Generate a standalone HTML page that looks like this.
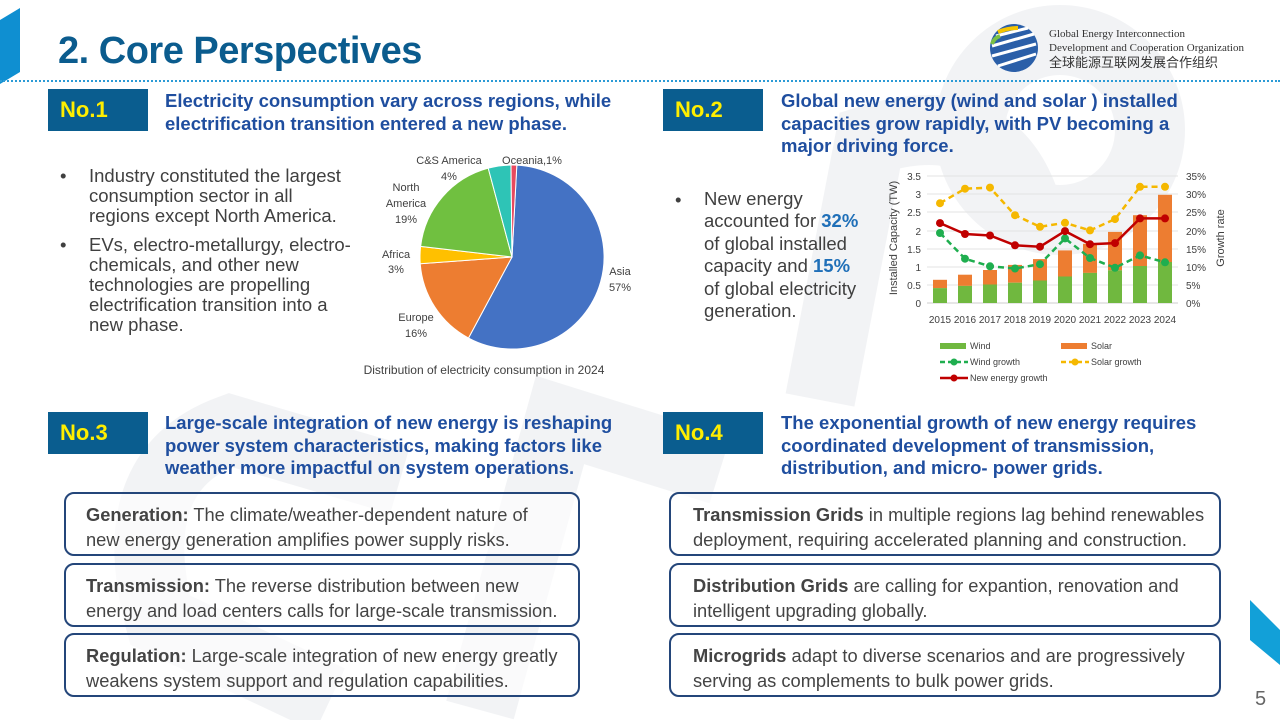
<!DOCTYPE html>
<html><head><meta charset="utf-8"><style>
*{margin:0;padding:0;box-sizing:border-box}
body{width:1280px;height:720px;position:relative;overflow:hidden;background:#fff;font-family:"Liberation Sans",Arial,sans-serif}
.abs{position:absolute}
.title{left:58px;top:30px;font-size:38px;font-weight:bold;color:#0b5c8e;letter-spacing:-0.5px}
.dots{left:0;top:80px;width:1280px;border-top:2px dotted #2b9bd6}
.no{width:100px;height:42px;background:#0a5d8f;color:#ffee00;font-weight:bold;font-size:22px;line-height:42px;padding-left:12px}
.hd{font-size:18.5px;font-weight:bold;color:#1f4e9f;line-height:22.5px;white-space:nowrap}
.bul{font-size:18.5px;color:#404040;line-height:20px;white-space:nowrap}
.box{border:2.5px solid #24467a;border-radius:10px;width:516px;height:64px;padding:8px 0 0 20px;font-size:18.3px;color:#444;line-height:25px;background:rgba(255,255,255,.6);white-space:nowrap}
.box b{color:#444}
.hl{color:#1f6fb8;font-weight:bold}
</style></head><body>
<svg class="abs" style="left:0;top:0" width="1280" height="720">
 <path d="M0 20 L20 8 L20 72 L0 84Z" fill="#0f8fd1"/>
 <path d="M1250 600 L1280 630 L1280 665 L1250 640Z" fill="#12a0d8"/>
 <g fill="none" stroke="#e6e8ec" stroke-width="70" opacity=".5">
  <path d="M330 700 L160 620 Q120 470 230 430 L400 480"/>
  <path d="M480 710 L560 420 L720 470"/>
  <path d="M820 400 L870 140 Q1000 100 1030 220"/>
  <circle cx="1060" cy="130" r="90"/>
 </g>
</svg>
<div class="abs title">2. Core Perspectives</div>
<div class="abs dots"></div>
<svg class="abs" style="left:988px;top:22px" width="52" height="52"><circle cx="26" cy="26" r="24" fill="#2b5fa8"/><path d="M8 14 L40 6 M4 24 L46 12 M4 34 L48 22 M10 44 L48 32" stroke="#fff" stroke-width="3"/><path d="M10 10 Q20 6 30 6" stroke="#f5c400" stroke-width="4" fill="none"/><path d="M4 22 Q6 16 12 14" stroke="#7ac143" stroke-width="4" fill="none"/></svg>
<div class="abs" style="left:1049px;top:27px;font-family:'Liberation Serif',serif;font-size:11px;color:#333;line-height:14px">Global Energy Interconnection<br>Development and Cooperation Organization<br><span style="font-family:'Noto Sans CJK SC',sans-serif;font-size:13px">全球能源互联网发展合作组织</span></div>

<div class="abs no" style="left:48px;top:89px">No.1</div>
<div class="abs hd" style="left:165px;top:90px">Electricity consumption vary across regions, while<br>electrification transition entered a new phase.</div>
<div class="abs no" style="left:663px;top:89px">No.2</div>
<div class="abs hd" style="left:781px;top:90px">Global new energy (wind and solar ) installed<br>capacities grow rapidly, with PV becoming a<br>major driving force.</div>
<div class="abs no" style="left:48px;top:412px">No.3</div>
<div class="abs hd" style="left:165px;top:412px">Large-scale integration of new energy is reshaping<br>power system characteristics, making factors like<br>weather more impactful on system operations.</div>
<div class="abs no" style="left:663px;top:412px">No.4</div>
<div class="abs hd" style="left:781px;top:412px">The exponential growth of new energy requires<br>coordinated development of transmission,<br>distribution, and micro- power grids.</div>

<div class="abs bul" style="left:60px;top:166px">•</div>
<div class="abs bul" style="left:89px;top:166px">Industry constituted the largest<br>consumption sector in all<br>regions except North America.</div>
<div class="abs bul" style="left:60px;top:235px">•</div>
<div class="abs bul" style="left:89px;top:235px">EVs, electro-metallurgy, electro-<br>chemicals, and other new<br>technologies are propelling<br>electrification transition into a<br>new phase.</div>

<svg class="abs" style="left:0;top:0" width="1280" height="720" font-family="Liberation Sans, sans-serif">
 <g transform="translate(512,257) rotate(3)">
  <path d="M0 0 L0 -92 A92 92 0 1 1 -39.2 83.2Z" fill="#4472c4" stroke="#fff" stroke-width="1"/>
  <path d="M0 0 L-39.2 83.2 A92 92 0 0 1 -91.3 11.5Z" fill="#ed7d31" stroke="#fff" stroke-width="1"/>
  <path d="M0 0 L-91.3 11.5 A92 92 0 0 1 -91.8 -5.8Z" fill="#ffc000" stroke="#fff" stroke-width="1"/>
  <path d="M0 0 L-91.8 -5.8 A92 92 0 0 1 -28.4 -87.5Z" fill="#70c040" stroke="#fff" stroke-width="1"/>
  <path d="M0 0 L-28.4 -87.5 A92 92 0 0 1 -5.8 -91.8Z" fill="#2ec4b6" stroke="#fff" stroke-width="1"/>
  <path d="M0 0 L-5.8 -91.8 A92 92 0 0 1 0 -92Z" fill="#e84a5f" stroke="#fff" stroke-width="1"/>
 </g>
 <g font-size="11" fill="#404040" text-anchor="middle">
  <text x="449" y="164">C&amp;S America</text><text x="449" y="180">4%</text>
  <text x="532" y="164">Oceania,1%</text>
  <text x="406" y="191">North</text><text x="406" y="207">America</text><text x="406" y="223">19%</text>
  <text x="396" y="258">Africa</text><text x="396" y="273">3%</text>
  <text x="620" y="275">Asia</text><text x="620" y="291">57%</text>
  <text x="416" y="321">Europe</text><text x="416" y="337">16%</text>
  <text x="484" y="374" font-size="12">Distribution of electricity consumption in 2024</text>
 </g>

 <g stroke="#e3e3e3" stroke-width="1">
  <line x1="927" x2="1178" y1="176" y2="176"/><line x1="927" x2="1178" y1="194" y2="194"/><line x1="927" x2="1178" y1="212" y2="212"/><line x1="927" x2="1178" y1="231" y2="231"/><line x1="927" x2="1178" y1="249" y2="249"/><line x1="927" x2="1178" y1="267" y2="267"/><line x1="927" x2="1178" y1="285" y2="285"/><line x1="927" x2="1178" y1="303" y2="303" stroke="#ccc"/>
 </g>
 <g fill="#ed7d31">
  <rect x="933" y="279.8" width="14" height="8.3"/><rect x="958" y="274.7" width="14" height="11.2"/><rect x="983" y="270" width="14" height="14.5"/><rect x="1008" y="264.9" width="14" height="17.8"/><rect x="1033" y="259.1" width="14" height="21.4"/><rect x="1058" y="250.4" width="14" height="26.1"/><rect x="1083" y="243.8" width="14" height="29.1"/><rect x="1108" y="231.9" width="14" height="38.4"/><rect x="1133" y="215.2" width="14" height="50.8"/><rect x="1158" y="194.8" width="14" height="67.2"/>
 </g>
 <g fill="#70b83f">
  <rect x="933" y="288.1" width="14" height="14.9"/><rect x="958" y="285.9" width="14" height="17.1"/><rect x="983" y="284.5" width="14" height="18.5"/><rect x="1008" y="282.7" width="14" height="20.3"/><rect x="1033" y="280.5" width="14" height="22.5"/><rect x="1058" y="276.5" width="14" height="26.5"/><rect x="1083" y="272.9" width="14" height="30.1"/><rect x="1108" y="270.3" width="14" height="32.7"/><rect x="1133" y="266" width="14" height="37"/><rect x="1158" y="262" width="14" height="41"/>
 </g>
 <polyline fill="none" stroke="#1fae4f" stroke-width="2.5" stroke-dasharray="6,4" points="940,233 965,258.7 990,266.3 1015,268.5 1040,264.2 1065,238.4 1090,258 1115,267.8 1140,255.4 1165,262.3"/>
 <g fill="#1fae4f"><circle cx="940" cy="233" r="4"/><circle cx="965" cy="258.7" r="4"/><circle cx="990" cy="266.3" r="4"/><circle cx="1015" cy="268.5" r="4"/><circle cx="1040" cy="264.2" r="4"/><circle cx="1065" cy="238.4" r="4"/><circle cx="1090" cy="258" r="4"/><circle cx="1115" cy="267.8" r="4"/><circle cx="1140" cy="255.4" r="4"/><circle cx="1165" cy="262.3" r="4"/></g>
 <polyline fill="none" stroke="#f5b800" stroke-width="2.5" stroke-dasharray="6,4" points="940,203.2 965,188.7 990,187.6 1015,215.2 1040,226.8 1065,222.8 1090,230.4 1115,219.1 1140,186.8 1165,186.8"/>
 <g fill="#f5b800"><circle cx="940" cy="203.2" r="4"/><circle cx="965" cy="188.7" r="4"/><circle cx="990" cy="187.6" r="4"/><circle cx="1015" cy="215.2" r="4"/><circle cx="1040" cy="226.8" r="4"/><circle cx="1065" cy="222.8" r="4"/><circle cx="1090" cy="230.4" r="4"/><circle cx="1115" cy="219.1" r="4"/><circle cx="1140" cy="186.8" r="4"/><circle cx="1165" cy="186.8" r="4"/></g>
 <polyline fill="none" stroke="#c00000" stroke-width="2.5" points="940,223.1 965,234 990,235.5 1015,245.3 1040,246.7 1065,231.1 1090,244.2 1115,243.1 1140,218.4 1165,218.4"/>
 <g fill="#c00000"><circle cx="940" cy="223.1" r="4"/><circle cx="965" cy="234" r="4"/><circle cx="990" cy="235.5" r="4"/><circle cx="1015" cy="245.3" r="4"/><circle cx="1040" cy="246.7" r="4"/><circle cx="1065" cy="231.1" r="4"/><circle cx="1090" cy="244.2" r="4"/><circle cx="1115" cy="243.1" r="4"/><circle cx="1140" cy="218.4" r="4"/><circle cx="1165" cy="218.4" r="4"/></g>
 <g font-size="10" fill="#404040" text-anchor="end">
  <text x="921" y="180">3.5</text><text x="921" y="198">3</text><text x="921" y="216">2.5</text><text x="921" y="235">2</text><text x="921" y="253">1.5</text><text x="921" y="271">1</text><text x="921" y="289">0.5</text><text x="921" y="307">0</text>
 </g>
 <g font-size="10" fill="#404040">
  <text x="1186" y="180">35%</text><text x="1186" y="198">30%</text><text x="1186" y="216">25%</text><text x="1186" y="235">20%</text><text x="1186" y="253">15%</text><text x="1186" y="271">10%</text><text x="1186" y="289">5%</text><text x="1186" y="307">0%</text>
 </g>
 <g font-size="10" fill="#404040" text-anchor="middle">
  <text x="940" y="323">2015</text><text x="965" y="323">2016</text><text x="990" y="323">2017</text><text x="1015" y="323">2018</text><text x="1040" y="323">2019</text><text x="1065" y="323">2020</text><text x="1090" y="323">2021</text><text x="1115" y="323">2022</text><text x="1140" y="323">2023</text><text x="1165" y="323">2024</text>
 </g>
 <text transform="translate(897,238) rotate(-90)" font-size="11" fill="#404040" text-anchor="middle">Installed Capacity (TW)</text>
 <text transform="translate(1224,238) rotate(-90)" font-size="11" fill="#404040" text-anchor="middle">Growth rate</text>
 <g font-size="9" fill="#404040">
  <rect x="940" y="343" width="26" height="6" fill="#70b83f"/><text x="970" y="349">Wind</text>
  <rect x="1061" y="343" width="26" height="6" fill="#ed7d31"/><text x="1091" y="349">Solar</text>
  <line x1="940" y1="362" x2="968" y2="362" stroke="#1fae4f" stroke-width="2.5" stroke-dasharray="5,3"/><circle cx="954" cy="362" r="3.5" fill="#1fae4f"/><text x="970" y="365">Wind growth</text>
  <line x1="1061" y1="362" x2="1089" y2="362" stroke="#f5b800" stroke-width="2.5" stroke-dasharray="5,3"/><circle cx="1075" cy="362" r="3.5" fill="#f5b800"/><text x="1091" y="365">Solar growth</text>
  <line x1="940" y1="378" x2="968" y2="378" stroke="#c00000" stroke-width="2.5"/><circle cx="954" cy="378" r="3.5" fill="#c00000"/><text x="970" y="381">New energy growth</text>
 </g>
</svg>

<div class="abs bul" style="left:675px;top:190px">•</div>
<div class="abs bul" style="left:704px;top:188px;line-height:22.4px">New energy<br>accounted for <span class="hl">32%</span><br>of global installed<br>capacity and <span class="hl">15%</span><br>of global electricity<br>generation.</div>

<div class="abs box" style="left:64px;top:492px"><b>Generation:</b> The climate/weather-dependent nature of<br>new energy generation amplifies power supply risks.</div>
<div class="abs box" style="left:64px;top:563px"><b>Transmission:</b> The reverse distribution between new<br>energy and load centers calls for large-scale transmission.</div>
<div class="abs box" style="left:64px;top:633px"><b>Regulation:</b> Large-scale integration of new energy greatly<br>weakens system support and regulation capabilities.</div>
<div class="abs box" style="left:669px;top:492px;width:552px;padding-left:22px"><b>Transmission Grids</b> in multiple regions lag behind renewables<br>deployment, requiring accelerated planning and construction.</div>
<div class="abs box" style="left:669px;top:563px;width:552px;padding-left:22px"><b>Distribution Grids</b> are calling for expantion, renovation and<br>intelligent upgrading globally.</div>
<div class="abs box" style="left:669px;top:633px;width:552px;padding-left:22px"><b>Microgrids</b> adapt to diverse scenarios and are progressively<br>serving as complements to bulk power grids.</div>
<div class="abs" style="left:1255px;top:688px;font-size:20px;color:#666">5</div>
</body></html>
